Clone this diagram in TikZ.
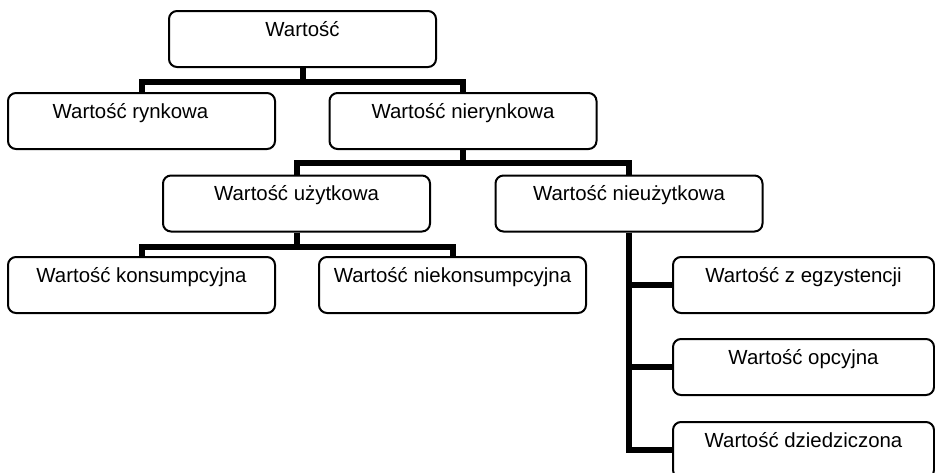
\documentclass[tikz,border=0pt]{standalone}
\usepackage{fontspec}
\setmainfont{Liberation Sans}

\tikzstyle{value_node} = [rectangle, rounded corners=4pt, draw=black, line width=1pt, text centered, minimum width=133.5pt, minimum height=28pt, text height=12.5pt, text depth=15.5pt, inner ysep=0pt, font=\fontsize{10.2}{12}\selectfont]
\tikzstyle{side_node} = [value_node, minimum width=130.5pt]
\tikzstyle{branch} = [line width=3pt]

\begin{document}
\begin{tikzpicture}[x=0.5pt, y=-0.5pt]
    \useasboundingbox (0,0) rectangle (935,472);

    \node (val)     [value_node] at (302.5,39)  {Wartość};
    \node (rynk)    [value_node] at (141.5,121) {Wartość rynkowa\hspace*{11pt}};
    \node (nierynk) [value_node] at (463,121)   {Wartość nierynkowa};
    \node (uzyt)    [value_node] at (296.5,203.5) {Wartość użytkowa};
    \node (nieuzyt) [value_node] at (629,203.5) {Wartość nieużytkowa};
    \node (kons)    [value_node] at (141.5,285) {Wartość konsumpcyjna};
    \node (niekons) [value_node] at (452.5,285) {Wartość niekonsumpcyjna};
    \node (egz)     [side_node]  at (803.5,285) {Wartość z egzystencji};
    \node (opc)     [side_node]  at (803.5,367) {Wartość opcyjna};
    \node (dziedz)  [side_node]  at (803.5,450) {Wartość dziedziczona};

    \draw [branch] (val.south) -- ++(0,14) -| (rynk.north);
    \draw [branch] (val.south) -- ++(0,14) -| (nierynk.north);
    \draw [branch] (nierynk.south) -- ++(0,13) -| (uzyt.north);
    \draw [branch] (nierynk.south) -- ++(0,13) -| (nieuzyt.north);
    \draw [branch] (uzyt.south) -- ++(0,14) -| (kons.north);
    \draw [branch] (uzyt.south) -- ++(0,14) -| (niekons.north);
    \draw [branch] (nieuzyt.south) |- (egz.west);
    \draw [branch] (nieuzyt.south) |- (opc.west);
    \draw [branch] (nieuzyt.south) |- (dziedz.west);
\end{tikzpicture}
\end{document}
